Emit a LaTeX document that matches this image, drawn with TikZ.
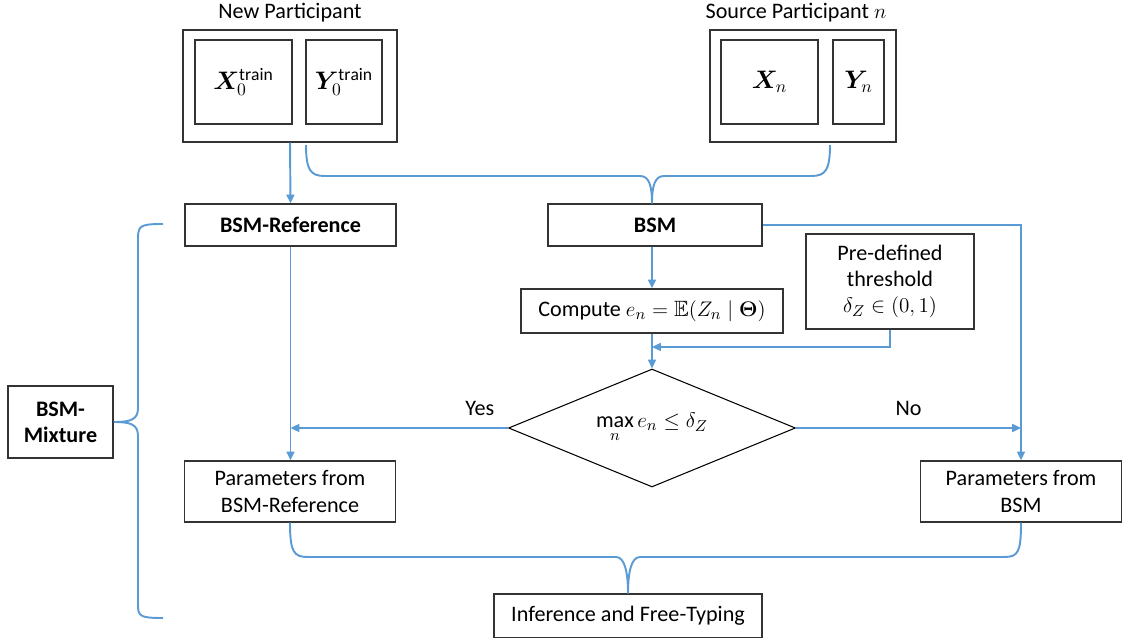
\documentclass[tikz,border=0pt]{standalone}
\usepackage{amsmath,amssymb,bm}
\usepackage{fontspec}
\setmainfont{Carlito}
\usetikzlibrary{positioning, arrows.meta, calc, shapes.geometric}

\definecolor{flowblue}{RGB}{91,155,213}

\begin{document}
\begin{tikzpicture}[x=0.02cm, y=-0.02cm, >={Triangle[length=5pt,width=4.5pt]}, font=\fontsize{12.6}{15}\selectfont,
      box/.style={draw=black!80, line width=0.7pt, align=center, inner sep=0pt},
      datbox/.style={box, font=\Large},
      lbl/.style={align=center},
      flow/.style={draw=flowblue, line width=1.1pt}]
    \useasboundingbox (0,0) rectangle (1122,638);
    % participants
    \node[box, minimum width=4.28cm, minimum height=2.24cm] (np) at (290,86) {};
    \node[datbox, minimum width=1.94cm, minimum height=1.68cm] (npX) at (243.5,82) {$\bm{X}_0^{\mathrm{train}}$};
    \node[datbox, minimum width=1.52cm, minimum height=1.68cm] (npY) at (344,82) {$\bm{Y}_0^{\mathrm{train}}$};
    \node[lbl] (nptitle) at (290,13) {New Participant};
    \node[box, minimum width=3.72cm, minimum height=2.24cm] (sp) at (803,86) {};
    \node[datbox, minimum width=1.94cm, minimum height=1.68cm] (spX) at (769.5,82) {$\bm{X}_n$};
    \node[datbox, minimum width=1.02cm, minimum height=1.68cm] (spY) at (858.5,82) {$\bm{Y}_n$};
    \node[lbl] (sptitle) at (796,13) {Source Participant $n$};
    % models
    \node[box, font=\fontsize{12.6}{15}\selectfont\bfseries, minimum width=4.22cm, minimum height=0.84cm] (bsmref) at (290.5,225) {BSM-Reference};
    \node[box, font=\fontsize{12.6}{15}\selectfont\bfseries, minimum width=4.28cm, minimum height=0.84cm] (bsm) at (655,225) {BSM};
    \node[box, minimum width=5.24cm, minimum height=0.88cm] (compute) at (652,311) {Compute $e_n = \mathbb{E}(Z_n \mid \bm{\Theta})$};
    \node[box, minimum width=3.36cm, minimum height=1.9cm] (thr) at (890,281.5) {Pre-defined\\threshold\\$\delta_Z \in (0,1)$};
    \node[draw=black, line width=0.6pt, diamond, aspect=2.43, minimum width=5.74cm, minimum height=2.36cm, inner sep=0pt] (dec) at (652,428) {$\max\limits_n e_n \le \delta_Z$};
    \node[box, minimum width=4.22cm, minimum height=1.22cm] (parref) at (290,491.5) {Parameters from\\BSM-Reference};
    \node[box, minimum width=4.02cm, minimum height=1.22cm] (parbsm) at (1021,491.5) {Parameters from\\BSM};
    \node[box, minimum width=5.36cm, minimum height=0.88cm] (inf) at (628,616) {Inference and Free-Typing};
    \node[box, font=\fontsize{12.6}{15}\selectfont\bfseries, minimum width=2.1cm, minimum height=1.44cm] (mix) at (60.5,422) {BSM-\\Mixture};
    % connectors
    \coordinate (tl) at (306,145);
    \coordinate (tr) at (830,145);
    \coordinate (jn) at (652,347);
    \coordinate (bt) at (163,224);
    \coordinate (bb) at (163,618);
    \draw[flow, ->] (np.south) -- (bsmref.north);
    \draw[flow] (tl) .. controls +(0,26) and +(-14,0) .. (325,176) -- (640,176)
      .. controls +(9,0) and +(0,-18) .. (bsm.north -| compute.north);
    \draw[flow] (tr) .. controls +(0,26) and +(14,0) .. (811,176) -- (664,176)
      .. controls +(-9,0) and +(0,-18) .. (bsm.north -| compute.north);
    \draw[flow, ->] (bsm.south -| compute.north) -- (compute.north);
    \draw[flow, ->] (thr.south) |- (jn);
    \draw[flow, ->] (compute.south) -- (dec.north);
    \draw[flow, ->] (bsm.east) -| (parbsm.north);
    \draw[flow, ->] (bsmref.south) -- (bsmref.south |- parref.north);
    \draw[flow, ->] (dec.west) -- node[lbl, above, pos=0.13, yshift=3pt] {Yes} (dec.west -| bsmref.south);
    \draw[flow, ->] (dec.east) -- node[lbl, above, pos=0.5, yshift=3pt] {No} (dec.east -| parbsm.north);
    \draw[flow] (parref.south) .. controls +(0,30) and +(-14,0) .. (308,557) -- (616,557)
      .. controls +(9,0) and +(0,-20) .. (inf.north);
    \draw[flow] (parbsm.south) .. controls +(0,30) and +(14,0) .. (1004,557) -- (640,557)
      .. controls +(-9,0) and +(0,-20) .. (inf.north);
    \draw[flow] (bt) .. controls (139,224) and (138,226) .. (138,240) -- (138,408)
      .. controls (138,420) and (130,422) .. (mix.east)
      .. controls (130,422) and (138,424) .. (138,436) -- (138,604)
      .. controls (138,616) and (139,618) .. (bb);
\end{tikzpicture}
\end{document}
